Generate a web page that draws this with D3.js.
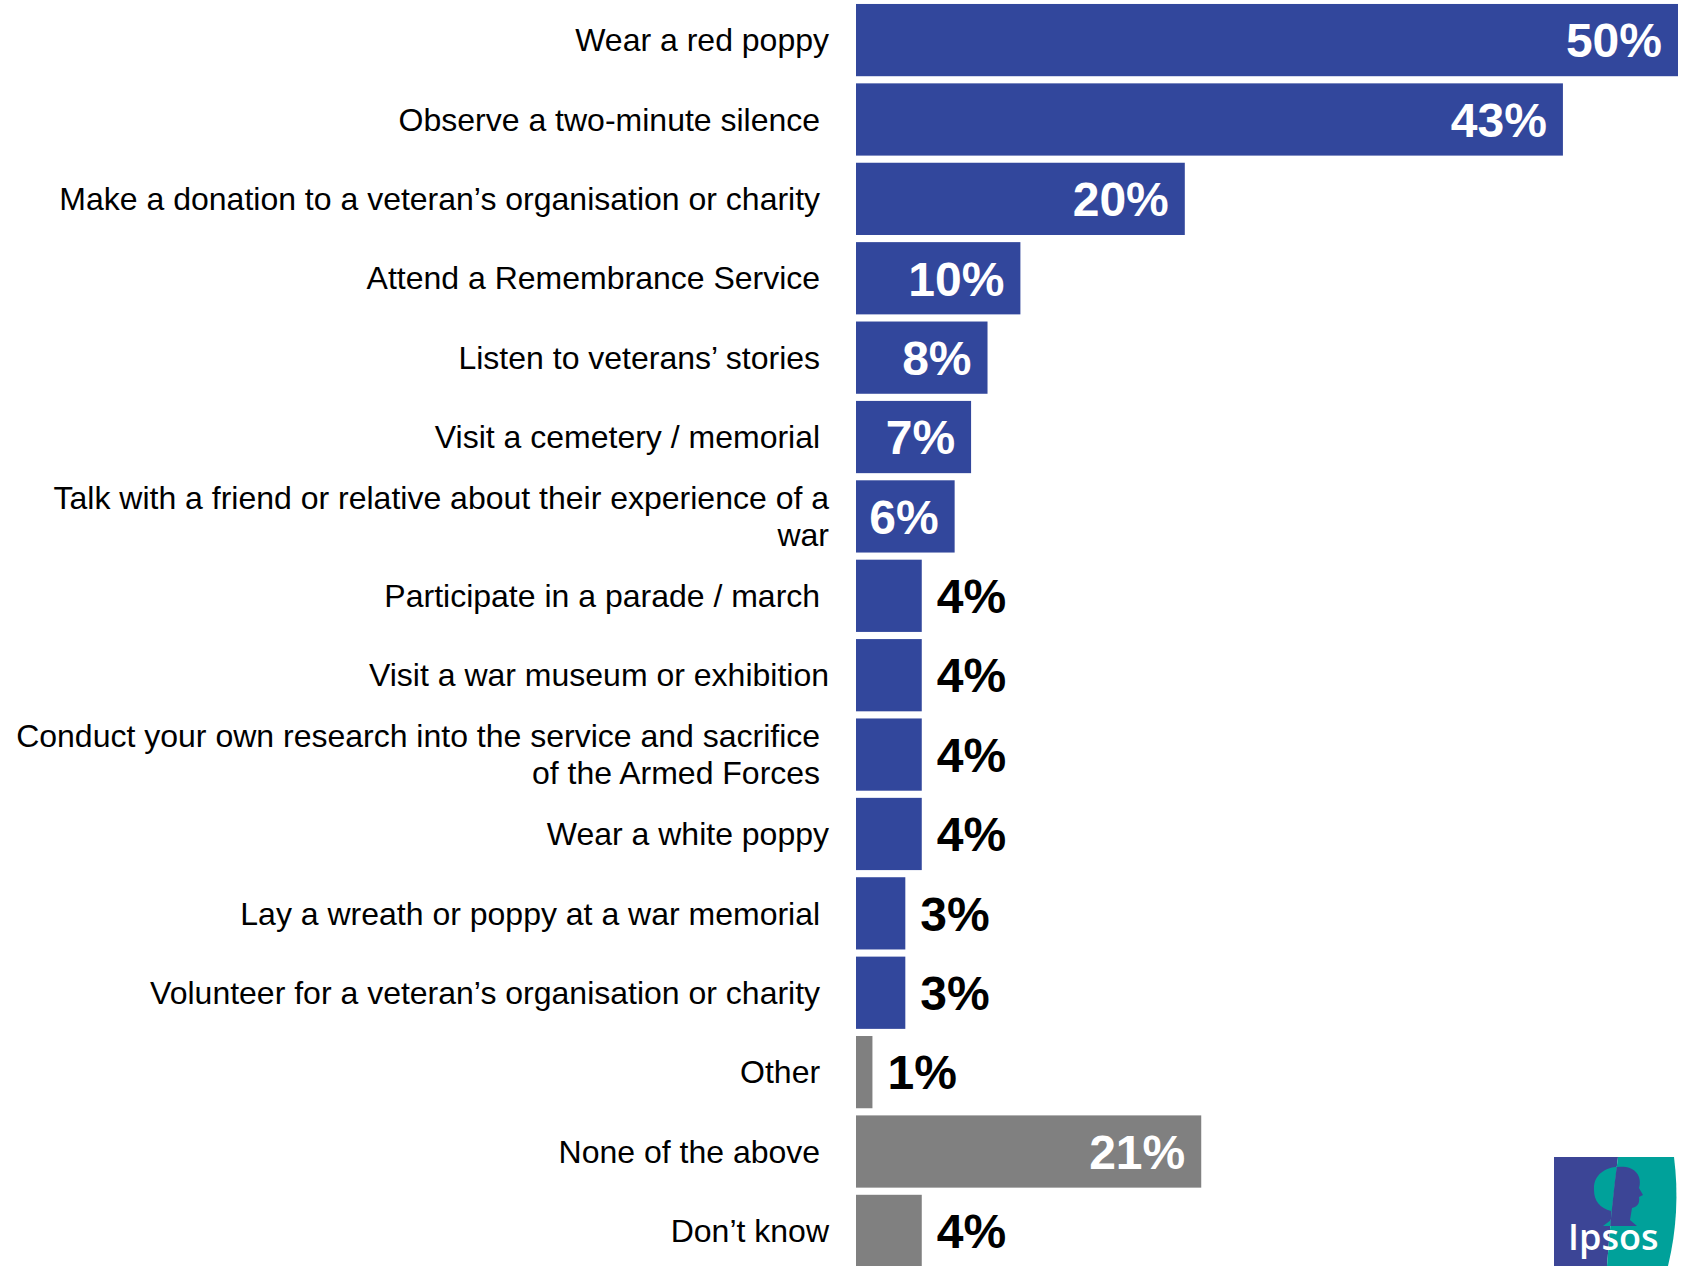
<!DOCTYPE html>
<html>
<head>
<meta charset="utf-8">
<script src="https://cdn.jsdelivr.net/npm/d3@7"></script>
<style>
  body { margin: 0; background: #fff; }
  svg { display: block; }
  .cat { font-family: "Liberation Sans", Arial, sans-serif; white-space: pre; }
  .val { font-family: "Liberation Sans", Arial, sans-serif; font-weight: bold; }
</style>
</head>
<body>
<div id="chart"></div>
<script>
// categories (trailing spaces are part of the original labels)
const categories = [
  "Wear a red poppy",
  "Observe a two-minute silence ",
  "Make a donation to a veteran\u2019s organisation or charity ",
  "Attend a Remembrance Service ",
  "Listen to veterans\u2019 stories ",
  "Visit a cemetery / memorial ",
  "Talk with a friend or relative about their experience of a|war",
  "Participate in a parade / march ",
  "Visit a war museum or exhibition",
  "Conduct your own research into the service and sacrifice |of the Armed Forces ",
  "Wear a white poppy",
  "Lay a wreath or poppy at a war memorial ",
  "Volunteer for a veteran\u2019s organisation or charity ",
  "Other ",
  "None of the above ",
  "Don\u2019t know"
];
const values = [50, 43, 20, 10, 8, 7, 6, 4, 4, 4, 4, 3, 3, 1, 21, 4];
const groups = ["act", "act", "act", "act", "act", "act", "act", "act", "act", "act", "act", "act", "act", "other", "other", "other"];

const W = 1691, H = 1266;
const barLeft = 856;
const colors = { act: "#32479c", other: "#808080" };

const svg = d3.select("#chart").append("svg")
  .attr("width", W)
  .attr("height", H);

const x = d3.scaleLinear()
  .domain([0, 50])
  .range([barLeft, 1678]);

const y = d3.scaleBand()
  .domain(categories)
  .range([0, 1271])
  .paddingInner(0.09)
  .paddingOuter(0.05);

const rows = categories.map((c, i) => ({ cat: c, v: values[i], g: groups[i] }));

svg.append("g").selectAll("rect")
  .data(rows)
  .join("rect")
    .attr("x", x(0))
    .attr("y", d => y(d.cat))
    .attr("width", d => x(d.v) - x(0))
    .attr("height", y.bandwidth())
    .attr("fill", d => colors[d.g]);

// category labels, right aligned left of the bars
const catFont = 32;
const lineH = 37;
svg.append("g").selectAll("text")
  .data(rows)
  .join("text")
    .attr("class", "cat")
    .attr("font-size", catFont)
    .attr("fill", "#000")
    .attr("text-anchor", "end")
    .each(function(d) {
      let lines = d.cat.split("|");
      let cy = y(d.cat) + y.bandwidth() / 2;
      let off = -(lines.length - 1) * lineH / 2;
      d3.select(this).selectAll("tspan")
        .data(lines)
        .join("tspan")
          .attr("x", 829)
          .attr("y", (l, i) => cy + off + i * lineH)
          .attr("dy", "0.35em")
          .text(l => l);
    });

// value labels: white inside the long bars, black outside the short ones
const inside = d => d.v >= 6;
svg.append("g").selectAll("text")
  .data(rows)
  .join("text")
    .attr("class", "val")
    .attr("font-size", 48)
    .attr("x", d => inside(d) ? x(d.v) - 16 : x(d.v) + 15)
    .attr("y", d => y(d.cat) + y.bandwidth() / 2)
    .attr("dy", "0.36em")
    .attr("text-anchor", d => inside(d) ? "end" : "start")
    .attr("fill", d => inside(d) ? "#fff" : "#000")
    .text(d => d.v + "%");

// Ipsos logo, bottom right
const logo = svg.append("g");
const defs = svg.append("defs");
const bluePart = "M1554,1157 L1618,1157 Q1611,1210 1607,1266 L1554,1266 Z";
const tealPart = "M1618,1157 L1674,1157 Q1681,1212 1668,1266 L1607,1266 Q1611,1210 1618,1157 Z";
defs.append("clipPath").attr("id", "clipBlue").append("path").attr("d", bluePart);
defs.append("clipPath").attr("id", "clipTeal").append("path").attr("d", tealPart);

logo.append("path").attr("d", bluePart).attr("fill", "#3c4596");
logo.append("path").attr("d", tealPart).attr("fill", "#00a19a");

const head = "M1594,1190 C1593,1172 1610,1165 1626,1167 C1637,1169 1642,1178 1639,1188 " +
  "L1643,1195 L1639,1197 C1640,1204 1637,1207 1632,1208 L1630,1220 L1637,1226 L1603,1226 " +
  "L1611,1220 L1611,1211 C1600,1208 1594,1201 1594,1190 Z";
logo.append("path").attr("d", head).attr("fill", "#00a19a").attr("clip-path", "url(#clipBlue)");
logo.append("path").attr("d", head).attr("fill", "#3c4596").attr("clip-path", "url(#clipTeal)");

logo.append("text")
  .attr("x", 1568)
  .attr("y", 1250)
  .attr("font-family", "'Open Sans', sans-serif")
  .attr("font-weight", 600)
  .attr("font-size", 36)
  .attr("fill", "#fff")
  .text("Ipsos");
</script>
</body>
</html>
